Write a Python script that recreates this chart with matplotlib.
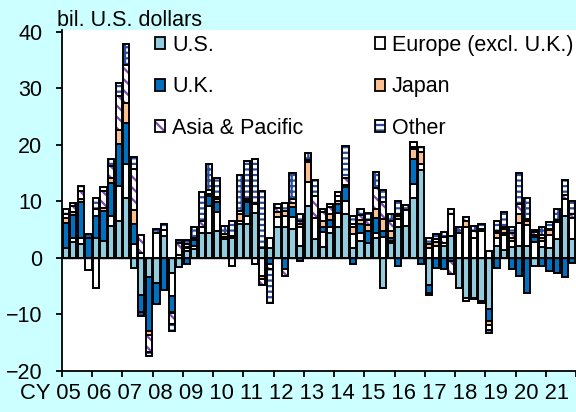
import matplotlib
matplotlib.use('Agg')
import matplotlib.pyplot as plt
import numpy as np
from matplotlib.patches import Patch
from matplotlib.legend_handler import HandlerTuple

plt.rcParams['font.family'] = ['Liberation Sans', 'DejaVu Sans']
plt.rcParams['hatch.linewidth'] = 1.6

# quarterly data, CY2005Q1 - CY2021Q4 (bil. U.S. dollars)
years = ['05', '06', '07', '08', '09', '10', '11', '12', '13', '14', '15', '16', '17', '18', '19', '20', '21']
us = [1.8, 2.9, 2.4, 0, 3.6, 3.0, 5.6, 6.6, 10.7, -1.8, -6.5, -3.3, -4.4, 3.9, -2.7,
      -1.6, 1.2, 1.6, 4.5, 4.5, 4.8, 3.3, 3.5, 6.0, 6.0, 8.0, 1.8, 1.8, 5.5, 5.4,
      5.1, 2.1, 9.2, 3.3, 2.0, 4.5, 5.5, 7.7, 1.8, 3.0, 2.7, 3.6, -5.3, 2.7, 5.4,
      5.6, 10.7, 15.6, -4.7, 0, 2.1, 3.9, -5.3, -7.0, -7.0, -7.6, -9.1, 2.1, 1.5, 2.0,
      2.1, 2.1, -1.4, 2.0, 1.8, 3.3, 7.5, 3.3]
eu = [0, 0.6, 1.2, -2.1, -5.3, 0, 1.8, 6.1, 5.9, 2.4, 0.8, 0, 4.5, 1.0, -4.1,
      0.6, 0.5, 0.6, 0.9, 4.7, 3.3, 0.5, -1.4, 0.6, 1.5, 1.5, -3.2, 1.8, 1.7, 2.1,
      2.1, 3.3, 4.3, 3.8, 2.6, 1.0, 2.5, 2.4, 2.5, 1.5, 0, 0.8, 3.7, 0.3, 1.5,
      2.9, 2.4, 1.1, 1.7, 2.1, 0.6, 3.8, 4.5, 5.5, 3.5, 4.8, 1.2, 1.5, 2.5, 1.0,
      4.1, 3.7, 2.9, 1.0, 2.2, 3.0, 3.0, 3.8]
uk = [4.4, 4.1, 6.3, 3.6, 3.8, 5.3, 5.9, 7.4, 7.3, 3.7, -3.0, -9.6, -3.8, -5.6, -2.7,
      0, -1.1, 1.0, 0, 1.8, 1.8, 0, 0, 0, 2.4, 0, 0, -1.1, 0, -2.0,
      1.9, -0.5, 0, 0, 0.8, 1.3, 1.6, 2.4, -1.1, 1.5, 2.0, 2.7, 1.1, 0.6, -1.4,
      0, 4.4, -1.0, -1.5, -1.7, -2.0, -0.5, 0, 0, -0.3, 0.3, -2.1, -1.7, 0.4, -2.0,
      -3.2, -6.2, 0.8, -1.4, -2.3, -2.6, -3.4, -0.8]
jp = [0.8, 0.5, 0.6, 0, 0, 0.6, 0.9, 2.5, 3.5, 2.4, 0, -0.7, 0, 0, -0.3,
      0, 0.2, 0, 0, 0.4, 0.6, 0.4, 0.4, 1.2, 0.3, 0.3, -0.6, 0, 0.9, 0.8,
      0.6, 0.6, 3.5, 0, 1.2, 1.0, 0.5, 0.4, 1.2, 0.8, 1.2, 1.5, 2.1, 1.2, 0.5,
      0, 1.8, 2.1, 0.7, 0.7, 0, 0, 0, 1.0, 0, 0, -0.6, 0.8, 0.7, 0.6,
      1.5, 0.7, 0.3, 0.6, 0.9, 0, 0, 0]
asia = [0.8, 1.1, 1.4, 0, 1.2, 3.0, 2.1, 6.1, 6.8, 7.3, 3.3, -3.0, 0, 0, -1.8,
        2.0, 0.5, 0.4, 1.2, 0.6, 0.3, 0, 0, 0.6, 0.2, -1.1, -0.9, -0.9, 0.7, -1.2,
        0.7, 0.6, 0.4, 3.9, 1.5, 1.3, 0.8, 1.2, 0.5, 0.8, 0.8, 3.8, 3.0, 1.8, 0.4,
        0, 0.3, 0, -0.4, 0.6, 1.0, -2.4, 0, 0.7, 1.3, -0.4, -0.9, 0.4, 0.4, 0.8,
        1.8, 0.4, 0.6, 0.5, 0.2, 0.5, 0.6, 0.6]
other = [0.8, 0.5, 0.9, 0.7, 2.1, 0.7, 1.2, 2.2, 3.7, 2.1, -0.8, -0.7, 0.6, 1.2, -1.4,
         0.6, 0.8, 1.8, 5.0, 4.7, 3.3, 1.5, 2.7, 6.2, 6.7, 7.7, 10.0, -5.9, 0.7, 1.5,
         4.6, 1.2, 1.1, 2.8, 0.5, 0.5, 0.7, 5.8, 1.5, 1.0, 1.3, 2.8, 2.2, 1.2, 2.2,
         0.9, 1.0, 0.8, 1.1, 0.9, 0.9, 0.9, 0.9, -0.6, 0.9, 1.0, -0.6, 1.8, 2.7, 1.0,
         5.6, 3.8, 0.3, 1.3, 1.2, 1.8, 2.7, 2.3]

labels = ['U.S.', 'Europe (excl. U.K.)', 'U.K.', 'Japan', 'Asia & Pacific', 'Other']
series = [us, eu, uk, jp, asia, other]
colors = ['#93CDDD', 'white', '#0070C0', '#FAC090', 'white', 'white']
hatches = [None, None, None, None, '\\\\\\', '---|']
hatch_colors = [None, None, None, None, '#7B4BAE', '#2A4C9C']

fig = plt.figure(figsize=(5.76, 4.12), dpi=100, facecolor='#CCFFFF')
ax = fig.add_axes([62 / 576, 1 - 371 / 412, 1 - 62 / 576, (371 - 30) / 412])

x = np.arange(len(us))
w = 0.82
pos_base = np.zeros(len(us))
neg_base = np.zeros(len(us))
handles = []
for vals, lab, col, hat, hcol in zip(series, labels, colors, hatches, hatch_colors):
    v = np.array(vals)
    base = np.where(v >= 0, pos_base, neg_base)
    if hat:
        ax.bar(x, v, w, bottom=base, color=col, edgecolor=hcol, hatch=hat, linewidth=0)
        ax.bar(x, v, w, bottom=base, color='none', edgecolor='black', linewidth=1.4)
        h = (Patch(facecolor=col, edgecolor=hcol, hatch=hat, linewidth=0),
             Patch(facecolor='none', edgecolor='black', linewidth=1.3))
    else:
        ax.bar(x, v, w, bottom=base, color=col, edgecolor='black', linewidth=1.4)
        h = Patch(facecolor=col, edgecolor='black', linewidth=1.3)
    handles.append(h)
    pos_base += np.where(v >= 0, v, 0)
    neg_base += np.where(v < 0, v, 0)

ax.axhline(0, color='black', linewidth=1.0)
ax.set_xlim(-0.5, len(us) - 0.5)
ax.set_ylim(-20, 40.35)
ax.set_yticks([-20, -10, 0, 10, 20, 30, 40])
ax.tick_params(axis='y', labelsize=15.5, length=4.3, width=1.3, direction='out', pad=10)
ax.set_xticks(np.arange(-0.5, len(us), 4))
ax.set_xticklabels([])
ax.tick_params(axis='x', length=4, width=1.3, direction='out')
for s in ['top', 'right']:
    ax.spines[s].set_visible(False)
ax.spines['left'].set_linewidth(1.3)
ax.spines['bottom'].set_linewidth(1.3)

fig.text(20 / 576, 1 - 399 / 412, 'CY ' + ' '.join(years), fontsize=15.8, va='baseline')
fig.text(57 / 576, 1 - 26 / 412, 'bil. U.S. dollars', fontsize=15.5, va='baseline')

# legend filled row by row like the original
order = [0, 2, 4, 1, 3, 5]
ax.legend([handles[i] for i in order], [labels[i] for i in order], ncol=2,
          loc='upper left', bbox_to_anchor=(155 / 576, 1 - 35 / 412),
          bbox_transform=fig.transFigure, frameon=False, fontsize=15.5,
          handlelength=0.47, handleheight=0.47, handletextpad=0.33,
          labelspacing=0.95, columnspacing=3.3, borderpad=0, borderaxespad=0,
          handler_map={tuple: HandlerTuple(ndivide=1)})

fig.savefig('out.png', dpi=100, facecolor=fig.get_facecolor())
